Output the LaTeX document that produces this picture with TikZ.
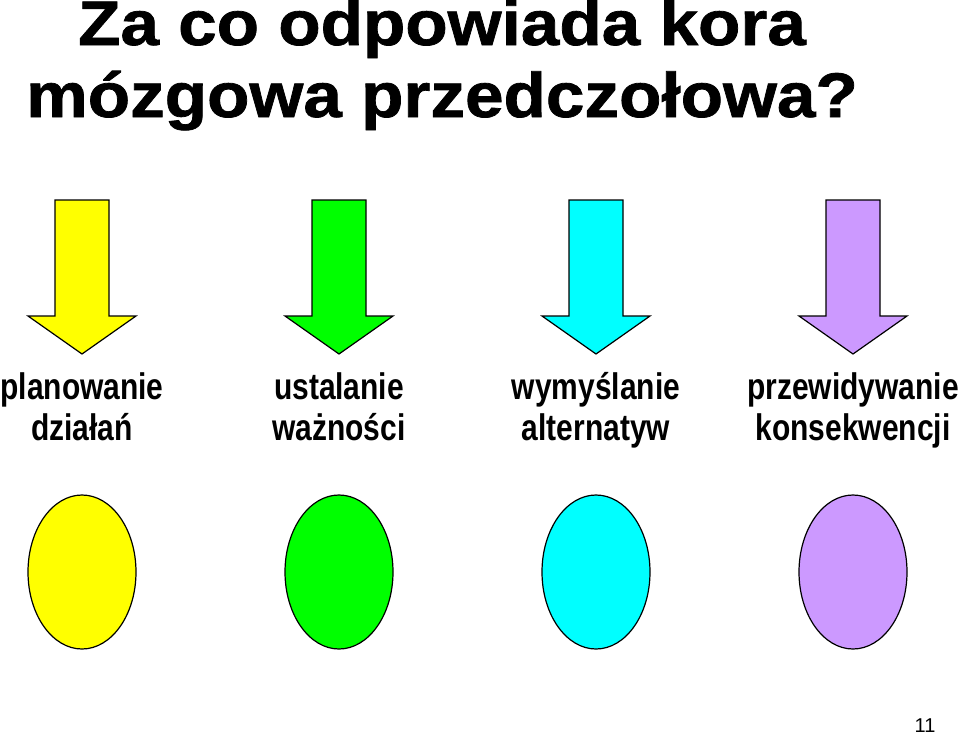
\documentclass[tikz,border=0pt]{standalone}
\usepackage{fontspec}
\setmainfont{Liberation Sans}
\newfontfamily\titlefont[FakeStretch=1.1,BoldFeatures={FakeBold=1.2}]{Liberation Sans}
\newfontfamily\labelfont[FakeStretch=0.81]{Liberation Sans}
\usetikzlibrary{shapes.geometric}
\definecolor{lemon}{HTML}{FFFF00}
\definecolor{lime}{HTML}{00FF00}
\definecolor{aqua}{HTML}{00FFFF}
\definecolor{lilac}{HTML}{CC99FF}

\begin{document}
\begin{tikzpicture}[x=1pt,y=-1pt,line width=1.2pt,
		blob/.style={draw=black,ellipse,minimum width=108pt,minimum height=154pt,inner sep=0pt},
		caption/.style={align=center,anchor=base,inner sep=0pt,font=\labelfont\bfseries\fontsize{37}{41}\selectfont}]
			\useasboundingbox (0,0) rectangle (960,736);
			\node[anchor=base,inner sep=0pt,align=center,font=\titlefont\bfseries\fontsize{63}{72}\selectfont] (title) at (442,117) {Za co odpowiada kora\\mózgowa przedczołowa?};
			\foreach \x/\c/\n/\txt in {82/lemon/1/{planowanie\\działań}, 339/lime/2/{ustalanie\\ważności}, 596/aqua/3/{wymyślanie\\alternatyw}, 853/lilac/4/{przewidywanie\\konsekwencji}}
			{
				\draw[fill=\c,line join=miter] (\x-27,200) -- (\x+27,200) -- (\x+27,316) -- (\x+54,316) -- (\x,354) -- (\x-54,316) -- (\x-27,316) -- cycle;
				\node[caption] (lab\n) at (\x,440) {\txt};
				\node[blob,fill=\c] (ell\n) at (\x,572) {};
			}
			\node[anchor=base,inner sep=0pt,font=\fontsize{20}{20}\selectfont] (page) at (925,732) {11};
		\end{tikzpicture}
\end{document}
